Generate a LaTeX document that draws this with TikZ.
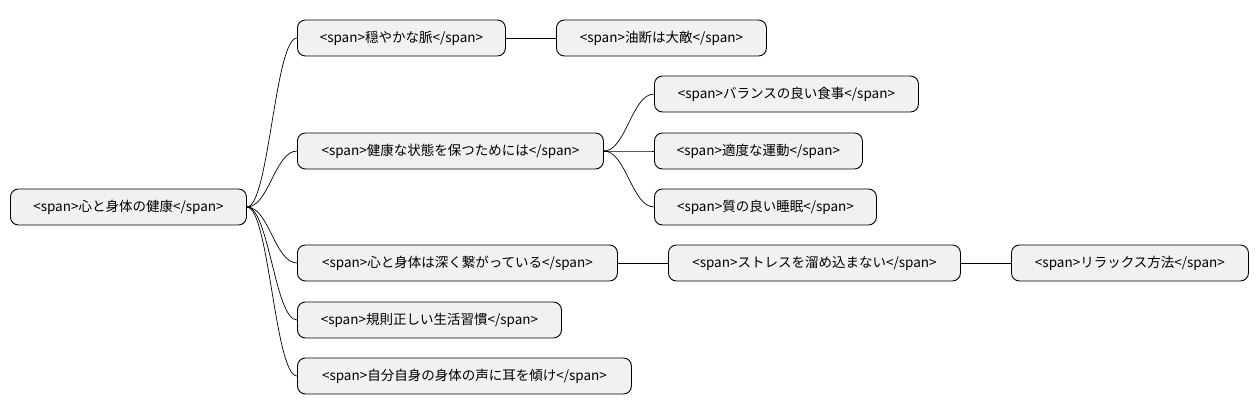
\documentclass[tikz,border=0pt]{standalone}
\usepackage{fontspec}
\setmainfont{Noto Sans CJK JP}
\usetikzlibrary{calc}
\tikzstyle{mmnode} = [draw, rounded corners=8pt, fill={rgb,255:red,241;green,241;blue,241}, line width=0.9pt, minimum height=36pt, inner xsep=10pt, anchor=west, font=\fontsize{13.5}{15}\selectfont]
\tikzstyle{branch} = [line width=0.7pt]
\newcommand{\curve}[2]{\draw[branch] (#1.east) .. controls ($(#1.east)+(22,0)$) and ($(#2.west)+(-22,0)$) .. (#2.west);}

\begin{document}
\begin{tikzpicture}[x=1pt,y=1pt]
    \useasboundingbox (0,0) rectangle (1258,415);
    \node[mmnode, minimum width=236pt] (root) at (10,208) {<span>心と身体の健康</span>};

    \node[mmnode, minimum width=208pt] (calm) at (297,377) {<span>穏やかな脈</span>};
    \node[mmnode, minimum width=210pt] (careless) at (556,377) {<span>油断は大敵</span>};

    \node[mmnode, minimum width=306pt] (keep) at (297,264) {<span>健康な状態を保つためには</span>};
    \node[mmnode, minimum width=264pt] (meal) at (654,321) {<span>バランスの良い食事</span>};
    \node[mmnode, minimum width=208pt] (exercise) at (654,264) {<span>適度な運動</span>};
    \node[mmnode, minimum width=222pt] (sleep) at (654,208) {<span>質の良い睡眠</span>};

    \node[mmnode, minimum width=320pt] (linked) at (297,152) {<span>心と身体は深く繋がっている</span>};
    \node[mmnode, minimum width=292pt] (stress) at (668,152) {<span>ストレスを溜め込まない</span>};
    \node[mmnode, minimum width=237pt] (relax) at (1011,152) {<span>リラックス方法</span>};

    \node[mmnode, minimum width=264pt] (habit) at (297,95) {<span>規則正しい生活習慣</span>};
    \node[mmnode, minimum width=334pt] (listen) at (297,39) {<span>自分自身の身体の声に耳を傾け</span>};

    \curve{root}{calm}
    \curve{root}{keep}
    \curve{root}{linked}
    \curve{root}{habit}
    \curve{root}{listen}
    \draw[branch] (calm) -- (careless);
    \curve{keep}{meal}
    \curve{keep}{exercise}
    \curve{keep}{sleep}
    \draw[branch] (linked) -- (stress);
    \draw[branch] (stress) -- (relax);
\end{tikzpicture}
\end{document}
